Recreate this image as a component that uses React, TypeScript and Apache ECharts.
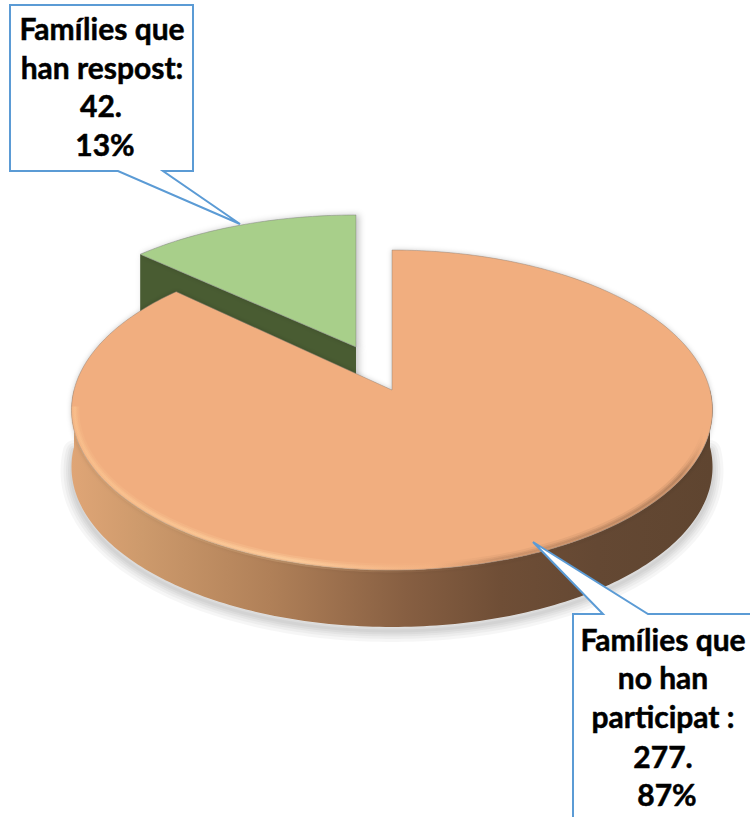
import React, { useEffect, useRef } from "react";
import * as echarts from "echarts";

const categories = ["Famílies que han respost", "Famílies que no han participat"];
const values = [42, 277];
const percents = [13, 87];
const faceColors = ["#a8cf8a", "#f1ae7f"];
const wallColor = "#4a5b33";

const labelFont = "Lato";
const labelSize = 30;

// perspective set-up of the disc
const CX = 392, CY = 390, RX = 318, RY = 157.5, K = 0.125, DEPTH = 57;

const project = (deg: number, r = 1, ox = CX, oy = CY, ys = 1) => {
  const a = (deg * Math.PI) / 180;
  const X = r * Math.sin(a);
  const Y = r * Math.cos(a);
  const w = 1 + K * Y;
  return [ox + (RX * X) / w, oy - (ys * RY * Y) / w];
};

const arcPoints = (from: number, to: number, r = 1, ox = CX, oy = CY, ys = 1) => {
  const n = Math.max(2, Math.ceil(Math.abs(to - from)));
  const pts: number[][] = [];
  for (let i = 0; i <= n; i++) pts.push(project(from + ((to - from) * i) / n, r, ox, oy, ys));
  return pts;
};

const rimGradient = (a: number) =>
  new echarts.graphic.LinearGradient(
    72, 0, 713, 0,
    [
      { offset: 0, color: `rgba(255,205,150,${0.55 * a})` },
      { offset: 0.35, color: `rgba(255,214,165,${0.9 * a})` },
      { offset: 0.56, color: `rgba(247,185,135,${0.35 * a})` },
      { offset: 0.66, color: `rgba(150,105,75,${0.4 * a})` },
      { offset: 0.95, color: `rgba(120,85,60,${0.5 * a})` },
      { offset: 0.985, color: `rgba(120,85,60,0)` },
      { offset: 1, color: `rgba(120,85,60,0)` },
    ],
    true
  );

const renderSlice = (params: any, api: any) => {
  const i = params.dataIndex;
  const total = values.reduce((s, v) => s + v, 0);
  const v = api.value(0);
  const sweep = (v / total) * 360;
  if (i === 0) {
    // exploded slice, ending at twelve o'clock
    const ox = 356, oy = 347, ys = 0.943;
    const arc = arcPoints(-sweep, 0, 1, ox, oy, ys);
    const left = arc[0];
    const children: any[] = [
      {
        type: "polygon",
        shape: { points: [left, [ox, oy], [ox, oy + DEPTH], [left[0], left[1] + DEPTH]] },
        style: { fill: wallColor, shadowBlur: 7, shadowColor: "rgba(0,0,0,0.22)", shadowOffsetX: 3 },
      },
      {
        type: "polygon",
        shape: { points: [[ox, oy], ...arc] },
        style: { fill: faceColors[0], stroke: "rgba(125,125,125,0.5)", lineWidth: 1, shadowBlur: 6, shadowColor: "rgba(0,0,0,0.22)", shadowOffsetX: 3 },
      },
    ];
    return { type: "group", children };
  }
  const rim = arcPoints(90, 270);
  const lower = rim.map((p) => [p[0], p[1] + DEPTH]).reverse();
  const sideFill = new echarts.graphic.LinearGradient(0, 0, 1, 0, [
    { offset: 0, color: "#dfa576" },
    { offset: 0.11, color: "#cd9a6c" },
    { offset: 0.31, color: "#b08058" },
    { offset: 0.52, color: "#875f42" },
    { offset: 0.67, color: "#6f4e36" },
    { offset: 0.82, color: "#644833" },
    { offset: 1, color: "#5f4530" },
  ]);
  const rimArc = arcPoints(104, 264, 0.99);
  const softShadow = [22, 16, 11, 7, 3].map((w) => ({
    type: "polyline",
    shape: { points: lower.map((p) => [p[0], p[1] + 4]) },
    style: { fill: "none", stroke: "rgba(0,0,0,0.035)", lineWidth: w, lineCap: "round", lineJoin: "round" },
  }));
  return {
    type: "group",
    children: [
      ...softShadow,
      {
        type: "polygon",
        shape: { points: [...rim, ...lower] },
        style: { fill: sideFill },
      },
      {
        type: "polygon",
        shape: { points: [[CX, CY], ...arcPoints(0, sweep)] },
        style: { fill: faceColors[1], stroke: "rgba(135,125,115,0.45)", lineWidth: 1, shadowBlur: 5, shadowColor: "rgba(0,0,0,0.2)" },
      },
      { type: "polyline", shape: { points: rimArc }, style: { fill: "none", stroke: rimGradient(0.25), lineWidth: 9 } },
      { type: "polyline", shape: { points: rimArc }, style: { fill: "none", stroke: rimGradient(0.4), lineWidth: 5 } },
      { type: "polyline", shape: { points: rimArc }, style: { fill: "none", stroke: rimGradient(0.45), lineWidth: 2 } },
    ],
  };
};

const textLine = (text: string, x: number, baseline: number) => ({
  type: "text",
  z: 11,
  x,
  y: baseline,
  style: {
    text,
    fill: "#000000",
    stroke: "#000000",
    lineWidth: 0.5,
    font: `bold ${labelSize}px ${labelFont}`,
    textAlign: "center",
    textVerticalAlign: "bottom",
  },
});

const calloutStyle = { fill: "#ffffff", stroke: "#5b9bd5", lineWidth: 2 };

export default function App() {
  const ref = useRef<HTMLDivElement>(null);
  useEffect(() => {
    document.body.style.margin = "0";
    const chart = echarts.init(ref.current!, null, { renderer: "svg" });
    chart.setOption({
      animation: false,
      backgroundColor: "#ffffff",
      series: [
        {
          type: "custom",
          coordinateSystem: "none",
          renderItem: renderSlice,
          data: categories.map((name, i) => ({ name, value: values[i] })),
          silent: true,
        },
      ],
      graphic: {
        elements: [
          {
            type: "polygon",
            z: 10,
            shape: { points: [[10, 5], [193, 5], [193, 171], [163, 171], [240, 224], [118, 171], [10, 171]] },
            style: calloutStyle,
          },
          {
            type: "polygon",
            z: 10,
            shape: { points: [[573, 614], [603, 614], [533, 542], [648, 614], [770, 614], [770, 840], [573, 840]] },
            style: calloutStyle,
          },
          textLine("Famílies que", 102, 43),
          textLine("han respost:", 102, 82),
          textLine(`${values[0]}.`, 101, 120),
          textLine(`${percents[0]}%`, 105, 159),
          textLine("Famílies que", 663, 654),
          textLine("no han", 663, 692),
          textLine("participat :", 663, 731),
          textLine(`${values[1]}.`, 663, 771),
          textLine(`${percents[1]}%`, 667, 809),
        ],
      },
    });
    return () => chart.dispose();
  }, []);
  return <div ref={ref} style={{ width: 750, height: 817 }} />;
}
